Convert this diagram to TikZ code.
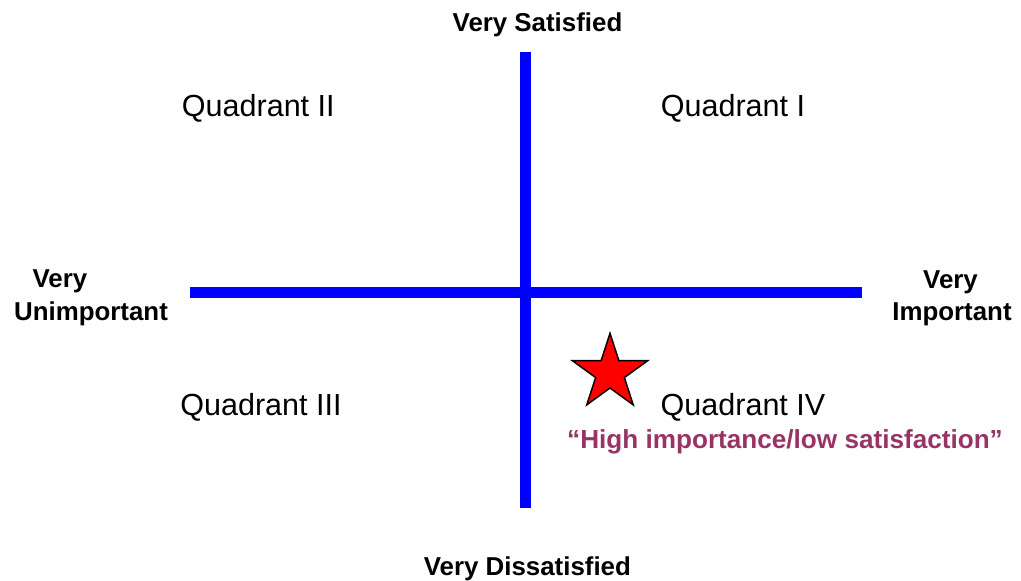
\documentclass[tikz,border=0pt]{standalone}
\usepackage{fontspec}
\setmainfont{Liberation Sans}
\usetikzlibrary{shapes.geometric}
\definecolor{axisblue}{RGB}{0,0,255}
\definecolor{hilite}{RGB}{153,51,102}
\begin{document}
\begin{tikzpicture}[x=0.75pt,y=-0.75pt,
  axisline/.style={draw=axisblue,line width=8.25pt,line cap=butt},
  quad/.style={anchor=base,inner sep=0pt,font=\fontsize{22.9}{27}\selectfont},
  axislabel/.style={anchor=base,inner sep=0pt,font=\bfseries\fontsize{19.4}{23}\selectfont},
  note/.style={anchor=base,inner sep=0pt,text=hilite,font=\bfseries\fontsize{19.6}{23}\selectfont},
  starshape/.style={star,star points=5,star point ratio=2.62,minimum size=59.4pt,inner sep=0pt,fill=red,draw=black,line width=1.1pt}]
\useasboundingbox (0,0) rectangle (1021,581);
% axis ends
\coordinate (top) at (525.5,52);
\coordinate (bottom) at (525.5,507.5);
\coordinate (left) at (190,292);
\coordinate (right) at (862,292);
\draw[axisline] (left) -- (right);
\draw[axisline] (top) -- (bottom);
% axis labels
\node[axislabel] (sat) at (537.5,31.7) {Very Satisfied};
\node[axislabel] (dissat) at (527.4,575) {Very Dissatisfied};
\node[axislabel] (unimpA) at (60,287) {Very};
\node[axislabel] (unimpB) at (91,320) {Unimportant};
\node[axislabel] (impA) at (950.5,288) {Very};
\node[axislabel] (impB) at (952,320) {Important};
% quadrants
\node[quad] (q2) at (258.3,116.7) {Quadrant II};
\node[quad] (q1) at (733,116.7) {Quadrant I};
\node[quad] (q3) at (261,415) {Quadrant III};
\node[quad] (q4) at (743,415) {Quadrant IV};
\node[note] (hl) at (785,448) {“High importance/low satisfaction”};
% star
\node[starshape] (mark) at (610,372.9) {};
\end{tikzpicture}
\end{document}
